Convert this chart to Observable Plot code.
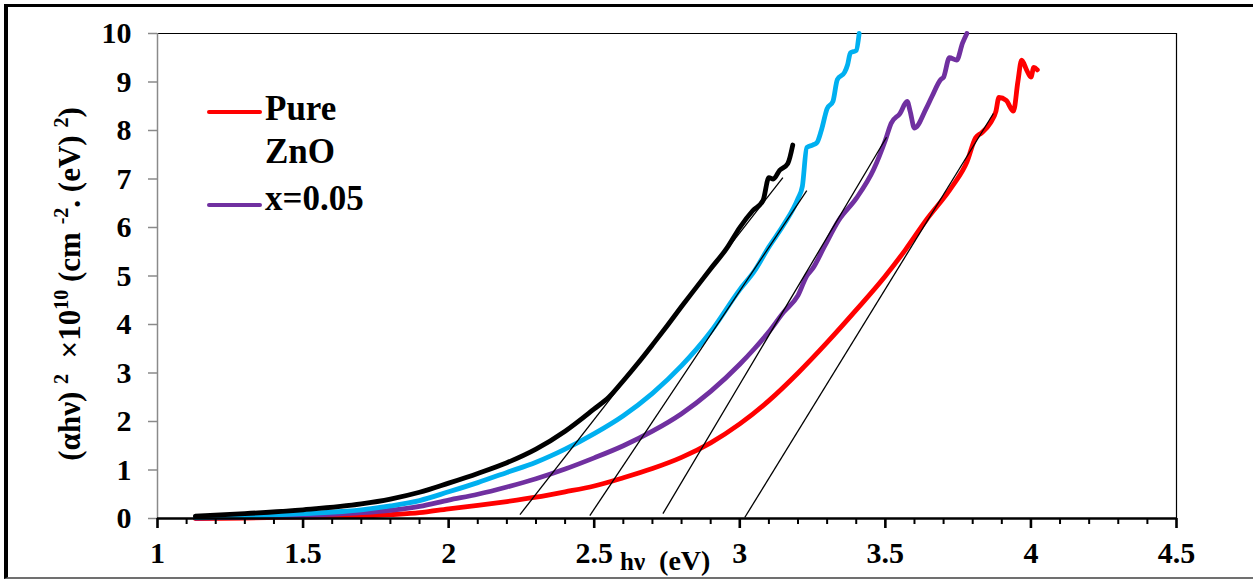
<!DOCTYPE html>
<html>
<head>
<meta charset="utf-8">
<script src="https://cdn.jsdelivr.net/npm/d3@7"></script>
<script src="https://cdn.jsdelivr.net/npm/@observablehq/plot@0.6"></script>
<style>
  html, body { margin: 0; padding: 0; background: #fff; }
  #wrap { position: relative; width: 1253px; height: 580px; overflow: hidden; font-family: 'Liberation Serif'; font-weight: bold; color: #000; }
  #border { position: absolute; left: 4px; top: 4px; width: 1249px; height: 575px; box-sizing: border-box;
            border-left: 4px solid #000; border-top: 3px solid #000; border-bottom: 2px solid #707070; }
  #chart { position: absolute; left: 0; top: 0; }
  .abs { position: absolute; white-space: nowrap; font-family: 'Liberation Serif'; font-weight: bold; }
  .swatch { position: absolute; height: 4px; border-radius: 2px; }
  .leg { font-size: 35px; line-height: 43px; }
  #ytitle { font-size: 31px; transform: translate(-50%, -50%) rotate(-90deg); }
  #ytitle sup { font-size: 20px; vertical-align: 12px; line-height: 0; }
</style>
</head>
<body>
<div id="wrap">
  <div id="border"></div>
  <div id="chart"></div>
</div>
<script>
// ---- data ----
const hvPure  = [1.13,1.3,1.5,1.7,1.8,1.9,2.0,2.1,2.2,2.3,2.4,2.5,2.6,2.7,2.8,2.9,3.0,3.1,3.2,3.3,3.4,3.5,3.57,3.64,3.73,3.78,3.81,3.83,3.86,3.88,3.89,3.915,3.94,3.955,3.968,3.985,4.0,4.01,4.022];
const ahvPure = [0.0,0.01,0.03,0.05,0.08,0.12,0.2,0.27,0.35,0.44,0.55,0.67,0.84,1.03,1.26,1.56,1.95,2.43,3.0,3.63,4.3,5.0,5.55,6.15,6.85,7.35,7.85,7.95,8.15,8.4,8.68,8.62,8.4,9.0,9.45,9.25,9.1,9.3,9.25];

const hvX005  = [1.13,1.3,1.5,1.7,1.8,1.9,2.0,2.1,2.2,2.3,2.4,2.5,2.6,2.7,2.8,2.9,3.0,3.05,3.1,3.15,3.2,3.23,3.25,3.29,3.34,3.4,3.46,3.5,3.52,3.55,3.575,3.585,3.6,3.64,3.66,3.69,3.7,3.72,3.745,3.765,3.78];
const ahvX005 = [0.01,0.03,0.06,0.12,0.17,0.25,0.38,0.5,0.65,0.82,1.02,1.25,1.5,1.8,2.16,2.62,3.18,3.5,3.85,4.25,4.6,5.0,5.15,5.6,6.15,6.6,7.2,7.8,8.15,8.35,8.6,8.4,8.05,8.45,8.7,9.05,9.1,9.5,9.45,9.8,10.0];

const hvCyan  = [1.13,1.3,1.5,1.7,1.8,1.9,2.0,2.1,2.2,2.3,2.4,2.5,2.6,2.7,2.8,2.9,3.0,3.05,3.1,3.15,3.2,3.215,3.23,3.25,3.265,3.28,3.3,3.32,3.335,3.36,3.37,3.38,3.4,3.41];
const ahvCyan = [0.02,0.05,0.1,0.18,0.26,0.37,0.55,0.74,0.95,1.16,1.43,1.75,2.12,2.58,3.15,3.85,4.72,5.1,5.6,6.05,6.6,6.85,7.65,7.7,7.75,8.0,8.45,8.6,9.05,9.2,9.35,9.6,9.65,10.0];

const hvBlack  = [1.13,1.3,1.5,1.7,1.8,1.9,2.0,2.1,2.2,2.3,2.4,2.5,2.55,2.6,2.65,2.7,2.75,2.8,2.85,2.9,2.955,3.0,3.045,3.08,3.1,3.115,3.137,3.165,3.182];
const ahvBlack = [0.05,0.1,0.18,0.3,0.4,0.54,0.73,0.93,1.15,1.43,1.8,2.26,2.5,2.84,3.2,3.58,3.97,4.37,4.76,5.15,5.57,6.0,6.35,6.56,7.03,7.0,7.18,7.32,7.7];

const seriesNames  = ["Pure ZnO", "x=0.05", "sample 3", "sample 4"];
const seriesColors = ["#ff0000", "#7030a0", "#00b0f0", "#000000"];

// linear-fit (Tauc) tangent lines: start and end points in data units
const tanX1 = [3.017, 2.736, 2.485, 2.245];
const tanY1 = [0.02, 0.1, 0.06, 0.08];
const tanX2 = [3.871, 3.504, 3.23, 3.148];
const tanY2 = [8.35, 7.86, 6.76, 7.03];

const xTicks = [1, 1.5, 2, 2.5, 3, 3.5, 4, 4.5];
const xMinorTicks = [1.1,1.2,1.3,1.4,1.6,1.7,1.8,1.9,2.1,2.2,2.3,2.4,2.6,2.7,2.8,2.9,3.1,3.2,3.3,3.4,3.6,3.7,3.8,3.9,4.1,4.2,4.3,4.4];
const yTicks = [0, 1, 2, 3, 4, 5, 6, 7, 8, 9, 10];

// ---- build tables ----
const seriesX = [hvPure, hvX005, hvCyan, hvBlack];
const seriesY = [ahvPure, ahvX005, ahvCyan, ahvBlack];
const rows = seriesNames.flatMap((name, s) => seriesX[s].map((hv, i) => ({series: name, hv, ahv: seriesY[s][i]})));
const tangents = tanX1.map((x1, i) => ({x1, y1: tanY1[i], x2: tanX2[i], y2: tanY2[i]}));

const font = "Liberation Serif";

const chart = Plot.plot({
  width: 1253,
  height: 580,
  marginLeft: 157,
  marginRight: 77,
  marginTop: 33,
  marginBottom: 62,
  x: {domain: [1, 4.5], axis: null},
  y: {domain: [0, 10], axis: null},
  color: {domain: seriesNames, range: seriesColors},
  style: {fontFamily: font, background: "transparent", overflow: "visible"},
  marks: [
    Plot.ruleY([10], {stroke: "#000", strokeWidth: 1.2}),
    Plot.ruleX([4.5], {stroke: "#000", strokeWidth: 1.2}),
    Plot.ruleX([1], {stroke: "#8a8a8a", strokeWidth: 1.5}),
    Plot.ruleY(yTicks, {x1: 1, x2: 1, insetLeft: -9, stroke: "#8a8a8a", strokeWidth: 1.5}),
    Plot.text(yTicks, {x: 1, y: d => d, text: d => String(d), textAnchor: "end", dx: -26, fontSize: 30, fontWeight: "bold", fontFamily: font, fill: "#000"}),
    Plot.line(rows, {x: "hv", y: "ahv", z: "series", stroke: "series", strokeWidth: 4.8, strokeLinecap: "round", strokeLinejoin: "round", curve: "monotone-x"}),
    Plot.link(tangents, {x1: "x1", y1: "y1", x2: "x2", y2: "y2", stroke: "#000", strokeWidth: 1.3}),
    Plot.ruleY([0], {stroke: "#000", strokeWidth: 2.6}),
    Plot.ruleX(xMinorTicks, {y1: 0, y2: 0, insetBottom: -6, stroke: "#000", strokeWidth: 2}),
    Plot.ruleX(xTicks, {y1: 0, y2: 0, insetBottom: -10, stroke: "#000", strokeWidth: 2.6}),
    Plot.text(xTicks, {x: d => d, y: 0, text: d => String(d), dy: 35, fontSize: 30, fontWeight: "bold", fontFamily: font, fill: "#000"})
  ]
});
document.getElementById("chart").appendChild(chart);

// ---- legend and axis titles (HTML overlay) ----
const wrap = document.getElementById("wrap");
function addDiv(cls, style, html) {
  const d = document.createElement("div");
  d.className = cls;
  Object.assign(d.style, style);
  d.innerHTML = html;
  wrap.appendChild(d);
  return d;
}
// legend
addDiv("swatch", {left: "207px", top: "110px", width: "55px", background: seriesColors[0]}, "");
addDiv("abs leg", {left: "265px", top: "87px"}, "Pure<br>ZnO");
addDiv("swatch", {left: "207px", top: "203px", width: "55px", background: seriesColors[1]}, "");
addDiv("abs leg", {left: "265px", top: "177px"}, "x=0.05");
// x title
addDiv("abs", {left: "620px", top: "545px", fontSize: "28px"}, "<span style='font-size:25px'>hν</span>&nbsp;&nbsp;(eV)");
// y title
const yt = addDiv("abs", {left: "70px", top: "284px"}, "(αhν)&nbsp;<sup>2</sup>&nbsp;&nbsp;×10<sup>10</sup>&nbsp;(cm&nbsp;<sup>-2</sup>.&nbsp;(eV)&nbsp;<sup>2</sup>)");
yt.id = "ytitle";
</script>
</body>
</html>
